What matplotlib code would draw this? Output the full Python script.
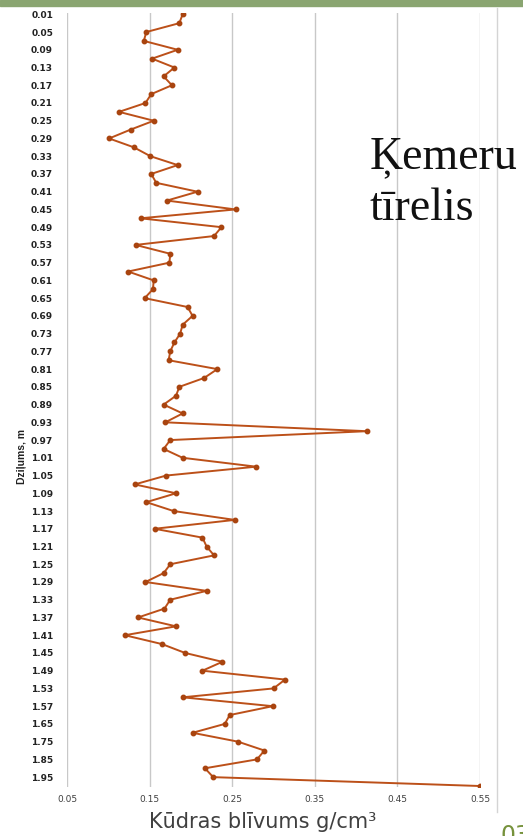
import matplotlib.pyplot as plt
import matplotlib.patches as mpatches
import matplotlib.lines as mlines

# dziļums (m) un kūdras blīvums (g/cm3)
dzilums = [0.01, 0.03, 0.05, 0.07, 0.09, 0.11, 0.13, 0.15, 0.17, 0.19,
           0.21, 0.23, 0.25, 0.27, 0.29, 0.31, 0.33, 0.35, 0.37, 0.39,
           0.41, 0.43, 0.45, 0.47, 0.49, 0.51, 0.53, 0.55, 0.57, 0.59,
           0.61, 0.63, 0.65, 0.67, 0.69, 0.71, 0.73, 0.75, 0.77, 0.79,
           0.81, 0.83, 0.85, 0.87, 0.89, 0.91, 0.93, 0.95, 0.97, 0.99,
           1.01, 1.03, 1.05, 1.07, 1.09, 1.11, 1.13, 1.15, 1.17, 1.19,
           1.21, 1.23, 1.25, 1.27, 1.29, 1.31, 1.33, 1.35, 1.37, 1.39,
           1.41, 1.43, 1.45, 1.47, 1.49, 1.51, 1.53, 1.55, 1.57, 1.61,
           1.65, 1.70, 1.75, 1.80, 1.85, 1.90, 1.95, 2.00]

blivums = [0.190, 0.186, 0.146, 0.143, 0.184, 0.153, 0.180, 0.167, 0.177, 0.152,
           0.145, 0.113, 0.155, 0.127, 0.101, 0.131, 0.151, 0.184, 0.152, 0.158,
           0.208, 0.171, 0.254, 0.139, 0.237, 0.228, 0.133, 0.175, 0.174, 0.124,
           0.155, 0.154, 0.144, 0.196, 0.202, 0.190, 0.187, 0.180, 0.175, 0.173,
           0.232, 0.216, 0.186, 0.182, 0.167, 0.190, 0.169, 0.413, 0.175, 0.167,
           0.190, 0.279, 0.170, 0.132, 0.182, 0.146, 0.179, 0.253, 0.156, 0.214,
           0.219, 0.228, 0.175, 0.167, 0.145, 0.219, 0.175, 0.168, 0.136, 0.182,
           0.120, 0.165, 0.193, 0.238, 0.214, 0.314, 0.300, 0.190, 0.299, 0.247,
           0.241, 0.202, 0.257, 0.289, 0.280, 0.217, 0.227, 0.550]

x_ticks = [0.05, 0.15, 0.25, 0.35, 0.45, 0.55]

W, H = 523, 836
fig = plt.figure(figsize=(W / 100, H / 100), dpi=100)

# zaļā josla augšā un slaida mala
fig.patches.append(mpatches.Rectangle((0, 1 - 6 / H), 1, 6 / H, transform=fig.transFigure,
                                      color="#8aa571", zorder=0))
fig.lines.append(mlines.Line2D([497 / W, 497 / W], [1 - 812 / H, 1 - 8 / H],
                               transform=fig.transFigure, color="#d4d4d4", lw=1))

ax = fig.add_axes([67 / W, 1 - 786.9 / H, (480 - 67) / W, (786.9 - 13.4) / H])
pos = list(range(len(dzilums)))
ax.plot(blivums, pos, color="#bc5019", lw=1.4, marker="o", markersize=3.2,
        markerfacecolor="#a9440f", markeredgecolor="#a9440f")

ax.set_xlim(0.05, 0.55)
ax.set_ylim(len(dzilums) - 1 + 0.1, -0.1)
ax.set_xticks(x_ticks)
ax.set_xticklabels(["%.2f" % v for v in x_ticks], fontsize=6.5, color="#404040")
ax.set_yticks(pos[::2])
ax.set_yticklabels(["%.2f" % d for d in dzilums[::2]], fontsize=6.5,
                   fontweight="bold", color="#222222")
ax.tick_params(length=0)
ax.tick_params(axis="y", pad=10)
ax.tick_params(axis="x", pad=6)
for s in ax.spines.values():
    s.set_visible(False)
ax.grid(axis="x", color="#c8c8c8", lw=1)
ax.set_axisbelow(True)

fig.text(22 / W, 1 - 457 / H, "Dziļums, m", rotation=90, ha="center", va="center",
         fontsize=7.5, fontweight="bold", family="Liberation Sans", color="#222222")
fig.text(263 / W, 1 - 822 / H, "Kūdras blīvums g/cm³", ha="center", va="center",
         fontsize=15, color="#404040")
fig.text(370 / W, 1 - 168 / H, "Ķemeru", ha="left", va="baseline",
         fontsize=33, family="Liberation Serif", color="#111111")
fig.text(370 / W, 1 - 220 / H, "tīrelis", ha="left", va="baseline",
         fontsize=33, family="Liberation Serif", color="#111111")
fig.text(500 / W, 1 - 824 / H, "03", ha="left", va="top",
         fontsize=17, color="#76923c")

fig.savefig("out.png", dpi=100)
